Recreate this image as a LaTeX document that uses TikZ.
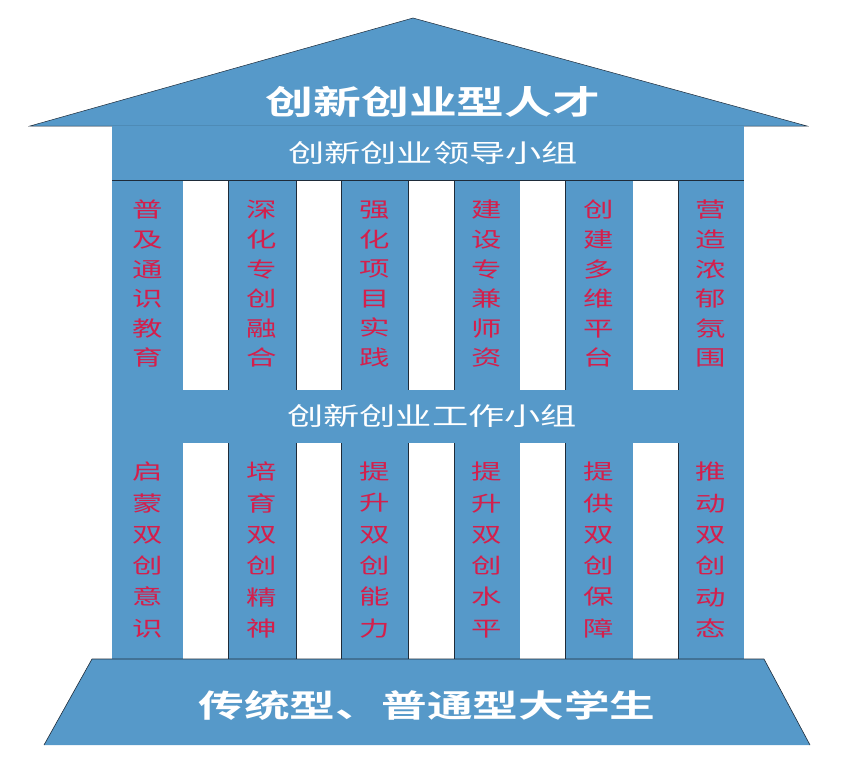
\documentclass[tikz,border=0pt]{standalone}
\usepackage{fontspec}
\newfontfamily\cjk[FakeStretch=1.45, BoldFont={Noto Sans CJK SC Bold}]{Noto Sans CJK SC}
\usepackage{xcolor}
\definecolor{colBody}{HTML}{5699C9}
\definecolor{colWord}{HTML}{D41F4C}
\definecolor{colEdge}{HTML}{1E2B39}
\usepackage{tikz}

\begin{document}
\begin{tikzpicture}[x=1pt, y=1pt,
        titolo/.style={text=white, font=\cjk\bfseries\fontsize{33}{36}\selectfont, inner sep=0pt},
        fascia/.style={text=white, font=\cjk\fontsize{25}{28}\selectfont, inner sep=0pt},
        colonna/.style={text=colWord, align=center, inner sep=0pt, font=\cjk\fontsize{21}{29.6}\selectfont},
        colonnabassa/.style={colonna, font=\cjk\fontsize{21}{31.3}\selectfont},
        bordo/.style={colEdge, line width=0.8pt}]
        \useasboundingbox (0,0) rectangle (852,-777);

        % === Tetto ===
        \filldraw[fill=colBody, draw=colEdge, line width=0.5pt]
            (30,-126) -- (413,-18) -- (807,-126) -- cycle;
        \node[titolo] (tetto) at (433,-102) {创新创业型人才};

        % === Corpo ===
        \fill[colBody] (112,-126) rectangle (744,-659);
        % spazi bianchi in alto
        \fill[white] (183,-180) rectangle (228,-390);
        \fill[white] (296,-180) rectangle (341,-390);
        \fill[white] (408,-180) rectangle (454,-390);
        \fill[white] (520,-180) rectangle (565,-390);
        \fill[white] (633,-180) rectangle (678,-390);
        % spazi bianchi in basso
        \fill[white] (183,-443) rectangle (228,-659);
        \fill[white] (296,-443) rectangle (341,-659);
        \fill[white] (408,-443) rectangle (454,-659);
        \fill[white] (520,-443) rectangle (565,-659);
        \fill[white] (633,-443) rectangle (678,-659);

        % Bordi scuri
        \draw[bordo] (112,-180) -- (744,-180);
        \draw[bordo] (228,-180) -- (228,-390);
        \draw[bordo] (296,-180) -- (296,-390);
        \draw[bordo] (341,-180) -- (341,-390);
        \draw[bordo] (408,-180) -- (408,-390);
        \draw[bordo] (454,-180) -- (454,-390);
        \draw[bordo] (565,-180) -- (565,-390);
        \draw[bordo] (678,-180) -- (678,-390);
        \draw[bordo] (228,-443) -- (228,-659);
        \draw[bordo] (296,-443) -- (296,-659);
        \draw[bordo] (341,-443) -- (341,-659);
        \draw[bordo] (408,-443) -- (408,-659);
        \draw[bordo] (454,-443) -- (454,-659);
        \draw[bordo] (565,-443) -- (565,-659);
        \draw[bordo] (678,-443) -- (678,-659);

        % Fasce
        \node[fascia] (guida)  at (433,-153) {创新创业领导小组};
        \node[fascia] (lavoro) at (432,-416) {创新创业工作小组};

        % Colonne in alto
        \node[colonna] (alto1) at (147.5,-284) {普\\及\\通\\识\\教\\育};
        \node[colonna] (alto2) at (262,-284)   {深\\化\\专\\创\\融\\合};
        \node[colonna] (alto3) at (374.5,-284) {强\\化\\项\\目\\实\\践};
        \node[colonna] (alto4) at (487,-284)   {建\\设\\专\\兼\\师\\资};
        \node[colonna] (alto5) at (599,-284)   {创\\建\\多\\维\\平\\台};
        \node[colonna] (alto6) at (711,-284)   {营\\造\\浓\\郁\\氛\\围};

        % Colonne in basso
        \node[colonnabassa] (basso1) at (147.5,-550) {启\\蒙\\双\\创\\意\\识};
        \node[colonnabassa] (basso2) at (262,-550)   {培\\育\\双\\创\\精\\神};
        \node[colonnabassa] (basso3) at (374.5,-550) {提\\升\\双\\创\\能\\力};
        \node[colonnabassa] (basso4) at (487,-550)   {提\\升\\双\\创\\水\\平};
        \node[colonnabassa] (basso5) at (599,-550)   {提\\供\\双\\创\\保\\障};
        \node[colonnabassa] (basso6) at (711,-550)   {推\\动\\双\\创\\动\\态};

        % === Base ===
        \fill[colBody] (92,-659) -- (764,-659) -- (810,-745) -- (44,-745) -- cycle;
        \draw[colEdge, line width=0.6pt] (44,-745) -- (92,-659) -- (764,-659) -- (810,-745);
        \node[titolo, font=\cjk\bfseries\fontsize{31.5}{34}\selectfont] (base) at (427,-705) {传统型、普通型大学生};
\end{tikzpicture}
\end{document}
